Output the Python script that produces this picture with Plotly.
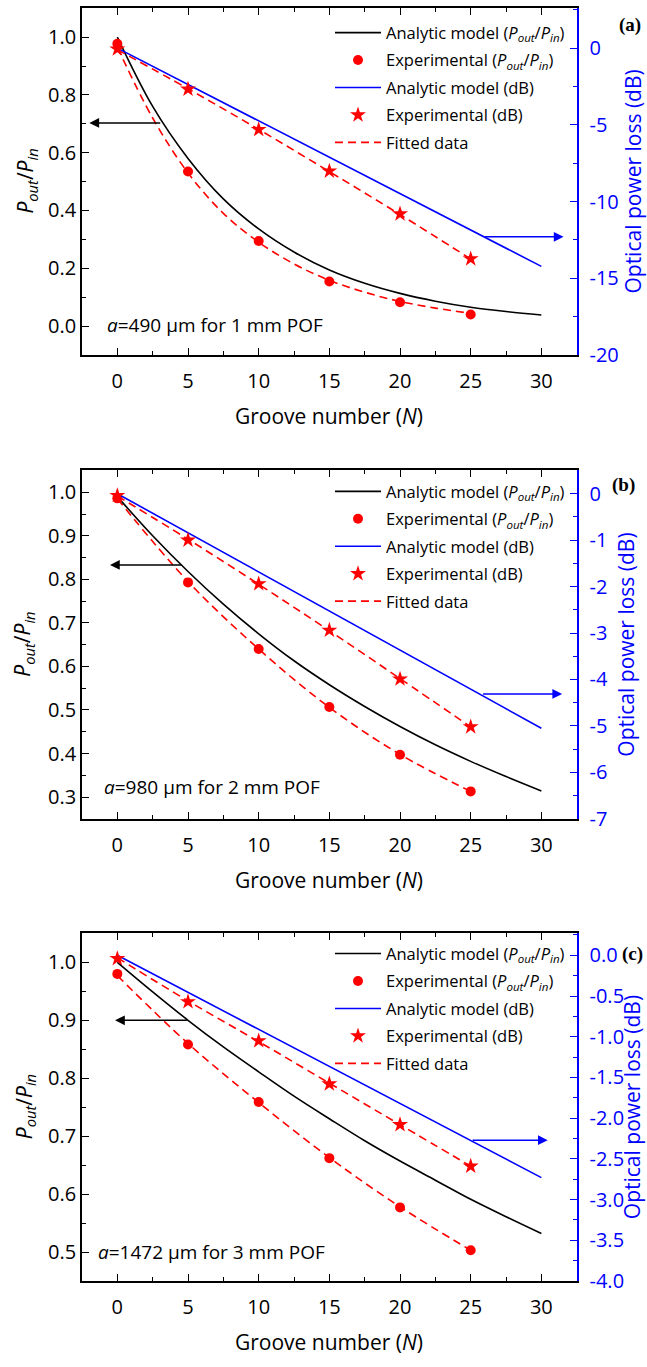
import plotly.graph_objects as go

W, H = 647, 1367

# ---------------- data ----------------
N_model = [0, 2.5, 5, 7.5, 10, 12.5, 15, 17.5, 20, 22.5, 25, 27.5, 30]
N_model_db = [0, 10, 20, 30]
N_exp = [0, 5, 10, 15, 20, 25]
N_fit = [0, 2.5, 5, 7.5, 10, 12.5, 15, 17.5, 20, 22.5, 25]

# panel (a)  a=490 um, 1 mm POF
a_model_ratio = [1.0, 0.76, 0.58, 0.44, 0.336, 0.256, 0.194, 0.148, 0.113, 0.086, 0.065, 0.050, 0.038]
a_model_db = [0.0, -4.75, -9.5, -14.23]
a_exp_ratio = [0.977, 0.535, 0.294, 0.154, 0.082, 0.040]
a_exp_db = [-0.06, -2.68, -5.31, -8.02, -10.81, -13.74]
a_fit_ratio = [0.965, 0.72, 0.53, 0.39, 0.29, 0.215, 0.158, 0.117, 0.085, 0.062, 0.044]
a_fit_db = [-0.1, -2.65, -5.3, -8.05, -10.85, -13.75]

# panel (b)  a=980 um, 2 mm POF
b_model_ratio = [0.99, 0.90, 0.818, 0.743, 0.675, 0.613, 0.558, 0.508, 0.462, 0.42, 0.382, 0.347, 0.314]
b_model_db = [0.0, -1.68, -3.36, -5.05]
b_exp_ratio = [0.986, 0.793, 0.640, 0.507, 0.397, 0.313]
b_exp_db = [-0.04, -1.0, -1.94, -2.94, -3.99, -5.02]
b_fit_ratio = [0.985, 0.795, 0.640, 0.506, 0.398, 0.313]
b_fit_db = [-0.05, -0.98, -1.95, -2.95, -3.98, -5.02]

# panel (c)  a=1472 um, 3 mm POF
c_model_ratio = [1.0, 0.949, 0.90, 0.854, 0.811, 0.769, 0.73, 0.692, 0.657, 0.624, 0.591, 0.561, 0.532]
c_model_db = [0.0, -0.91, -1.82, -2.73]
c_exp_ratio = [0.980, 0.858, 0.759, 0.662, 0.577, 0.503]
c_exp_db = [-0.04, -0.57, -1.05, -1.58, -2.08, -2.59]
c_fit_ratio = [0.977, 0.86, 0.758, 0.663, 0.578, 0.503]
c_fit_db = [-0.03, -0.56, -1.06, -1.57, -2.08, -2.59]

# tick labels
x_ticks = [0, 5, 10, 15, 20, 25, 30]
a_left_ticks = [0.0, 0.2, 0.4, 0.6, 0.8, 1.0]
a_right_ticks = [0, -5, -10, -15, -20]
a_right_text = ["0", "-5", "-10", "-15", "-20"]
b_left_ticks = [0.3, 0.4, 0.5, 0.6, 0.7, 0.8, 0.9, 1.0]
b_right_ticks = [0, -1, -2, -3, -4, -5, -6, -7]
b_right_text = ["0", "-1", "-2", "-3", "-4", "-5", "-6", "-7"]
c_left_ticks = [0.5, 0.6, 0.7, 0.8, 0.9, 1.0]
c_right_ticks = [0.0, -0.5, -1.0, -1.5, -2.0, -2.5, -3.0, -3.5, -4.0]
c_right_text = ["0.0", "-0.5", "-1.0", "-1.5", "-2.0", "-2.5", "-3.0", "-3.5", "-4.0"]

labels = ["(a)", "(b)", "(c)"]
notes = ["<i>a</i>=490 \u03bcm for 1 mm POF",
         "<i>a</i>=980 \u03bcm for 2 mm POF",
         "<i>a</i>=1472 \u03bcm for 3 mm POF"]

# ---------------- style ----------------
FONT = "Open Sans"
RED = "#FF0000"
BLUE = "#0000FF"
BLACK = "#000000"
TICK_FS = 20
TITLE_FS = 21
LEG_FS = 16.5

# pixel geometry
PX_L, PX_R = 82.0, 576.7
panels_px = [(8.3, 358.3), (475.0, 826.7), (942.3, 1293.3)]

def py(p):
    return 1 - p / H

def px(p):
    return p / W

xdom = [px(PX_L), px(PX_R)]

fig = go.Figure()

panel_data = [
    (a_model_ratio, a_model_db, a_exp_ratio, a_exp_db, a_fit_ratio, N_fit, a_fit_db),
    (b_model_ratio, b_model_db, b_exp_ratio, b_exp_db, b_fit_ratio, N_exp, b_fit_db),
    (c_model_ratio, c_model_db, c_exp_ratio, c_exp_db, c_fit_ratio, N_exp, c_fit_db),
]

for i, (mr, mdb, er, edb, fr, nfr, fdb) in enumerate(panel_data):
    xa = "x" if i == 0 else f"x{i+1}"
    yl = "y" if i == 0 else f"y{2*i+1}"
    yr = f"y{2*i+2}"
    lg = "legend" if i == 0 else f"legend{i+1}"
    fig.add_trace(go.Scatter(x=nfr, y=fr, mode="lines", name="Fitted data",
                             line=dict(color=RED, width=1.6, dash="8px,5px", shape="spline"),
                             xaxis=xa, yaxis=yl, legend=lg, legendrank=5, legendgroup=f"p{i}fit"))
    fig.add_trace(go.Scatter(x=N_exp, y=fdb, mode="lines", name="Fitted data",
                             line=dict(color=RED, width=1.6, dash="8px,5px", shape="spline"),
                             xaxis=xa, yaxis=yr, legend=lg, showlegend=False, legendgroup=f"p{i}fit"))
    fig.add_trace(go.Scatter(x=N_model, y=mr, mode="lines",
                             name="Analytic model (<i>P</i><sub><i>out</i></sub>/<i>P</i><sub><i>in</i></sub>)",
                             line=dict(color=BLACK, width=1.6, shape="spline"),
                             xaxis=xa, yaxis=yl, legend=lg, legendrank=1, legendgroup=f"p{i}m"))
    fig.add_trace(go.Scatter(x=N_model_db, y=mdb, mode="lines", name="Analytic model (dB)",
                             line=dict(color=BLUE, width=1.6),
                             xaxis=xa, yaxis=yr, legend=lg, legendrank=3, legendgroup=f"p{i}mdb"))
    fig.add_trace(go.Scatter(x=N_exp, y=er, mode="markers",
                             name="Experimental (<i>P</i><sub><i>out</i></sub>/<i>P</i><sub><i>in</i></sub>)",
                             marker=dict(color=RED, size=10, symbol="circle"),
                             xaxis=xa, yaxis=yl, legend=lg, legendrank=2, legendgroup=f"p{i}e"))
    fig.add_trace(go.Scatter(x=N_exp, y=edb, mode="markers", name="Experimental (dB)",
                             marker=dict(color=RED, size=12, symbol="star"),
                             xaxis=xa, yaxis=yr, legend=lg, legendrank=4, legendgroup=f"p{i}edb"))

left_cfg = [
    dict(range=[-0.1, 1.1], tickvals=a_left_ticks, minor_dtick=0.1),
    dict(range=[0.25, 1.05], tickvals=b_left_ticks, minor_dtick=0.05),
    dict(range=[0.45, 1.05], tickvals=c_left_ticks, minor_dtick=0.05),
]
right_cfg = [
    dict(range=[-20, 2.6], tickvals=a_right_ticks, ticktext=a_right_text, minor_dtick=2.5),
    dict(range=[-7, 0.5], tickvals=b_right_ticks, ticktext=b_right_text, minor_dtick=0.5),
    dict(range=[-4, 0.27], tickvals=c_right_ticks, ticktext=c_right_text, minor_dtick=0.25),
]

layout = dict(
    width=W, height=H,
    margin=dict(l=0, r=0, t=0, b=0),
    paper_bgcolor="white", plot_bgcolor="rgba(0,0,0,0)",
    font=dict(family=FONT, size=TICK_FS, color=BLACK),
    showlegend=True,
)

legend_tops = [15.5, 478.7, 945.3]
annotations = []

for i in range(3):
    top, bot = panels_px[i]
    ydom = [py(bot), py(top)]
    xk = "xaxis" if i == 0 else f"xaxis{i+1}"
    ylk = "yaxis" if i == 0 else f"yaxis{2*i+1}"
    yrk = f"yaxis{2*i+2}"
    xa = "x" if i == 0 else f"x{i+1}"
    yl = "y" if i == 0 else f"y{2*i+1}"
    layout[xk] = dict(domain=xdom, anchor=yl, range=[-2.5, 32.5], tickmode="array", tickvals=x_ticks,
                      ticks="inside", ticklen=7, tickwidth=1.3, tickcolor=BLACK,
                      minor=dict(dtick=2.5, tick0=0, ticks="inside", ticklen=4, tickwidth=1.3, tickcolor=BLACK),
                      showline=True, linecolor=BLACK, linewidth=1.6, mirror="ticks",
                      showgrid=False, zeroline=False, ticklabelstandoff=7,
                      tickfont=dict(size=TICK_FS, color=BLACK))
    lc = left_cfg[i]
    layout[ylk] = dict(domain=ydom, anchor=xa, range=lc["range"], tickmode="array", tickvals=lc["tickvals"],
                       tickformat=".1f", ticks="inside", ticklen=7, tickwidth=1.3, tickcolor=BLACK,
                       minor=dict(dtick=lc["minor_dtick"], tick0=0, ticks="inside", ticklen=4, tickwidth=1.3, tickcolor=BLACK),
                       showline=True, linecolor=BLACK, linewidth=1.6, mirror=False,
                       showgrid=False, zeroline=False, ticklabelstandoff=0,
                       tickfont=dict(size=TICK_FS, color=BLACK))
    rc = right_cfg[i]
    layout[yrk] = dict(overlaying=yl, anchor=xa, side="right", range=rc["range"], tickmode="array",
                       tickvals=rc["tickvals"], ticktext=rc["ticktext"],
                       ticks="inside", ticklen=7, tickwidth=1.3, tickcolor=BLUE,
                       minor=dict(dtick=rc["minor_dtick"], tick0=0, ticks="inside", ticklen=4, tickwidth=1.3, tickcolor=BLUE),
                       showline=True, linecolor=BLUE, linewidth=1.6,
                       showgrid=False, zeroline=False, ticklabelstandoff=7,
                       tickfont=dict(size=TICK_FS, color=BLUE))
    lk = "legend" if i == 0 else f"legend{i+1}"
    layout[lk] = dict(x=px(330), y=py(legend_tops[i]), xanchor="left", yanchor="top",
                      bgcolor="rgba(0,0,0,0)", borderwidth=0, tracegroupgap=3,
                      itemwidth=46, traceorder="grouped",
                      font=dict(family=FONT, size=LEG_FS, color=BLACK))

    annotations.append(dict(text="Groove number (<i>N</i>)", xref="paper", yref="paper",
                            x=px((PX_L + PX_R) / 2), y=py(bot + 62), xanchor="center", yanchor="middle",
                            showarrow=False, font=dict(family=FONT, size=TITLE_FS, color=BLACK)))
    left_title_x = [26, 23, 25][i]
    annotations.append(dict(text="<i>P</i><sub><i>out</i></sub>/<i>P</i><sub><i>in</i></sub>",
                            xref="paper", yref="paper", x=px(left_title_x), y=py((top + bot) / 2),
                            xanchor="center", yanchor="middle", textangle=-90, showarrow=False,
                            font=dict(family=FONT, size=TITLE_FS, color=BLACK)))
    right_title_x = [633, 626, 632][i]
    annotations.append(dict(text="Optical power loss (dB)", xref="paper", yref="paper",
                            x=px(right_title_x), y=py((top + bot) / 2),
                            xanchor="center", yanchor="middle", textangle=-90, showarrow=False,
                            font=dict(family=FONT, size=TITLE_FS, color=BLUE)))
    lab_pos = [(630, 25), (623, 490), (632, 963)][i]
    annotations.append(dict(text="<b>%s</b>" % labels[i], xref="paper", yref="paper",
                            x=px(lab_pos[0]), y=py(lab_pos[1]), xanchor="center", yanchor="middle",
                            showarrow=False, font=dict(family="Liberation Serif", size=19, color=BLACK)))

note_pos = [(-0.87, 0.003), (-1.1, 0.323), (-1.5, 0.5)]
arrows_black = [((-1.98, 0.703), (3.14, 0.703)), ((-0.52, 0.833), (4.67, 0.833)), ((-0.16, 0.9), (5.03, 0.9))]
arrows_blue = [((31.57, -12.3), (25.9, -12.3)), ((31.47, -4.31), (25.77, -4.31)), ((30.45, -2.27), (25.03, -2.27))]
for i in range(3):
    xa = "x" if i == 0 else f"x{i+1}"
    yl = "y" if i == 0 else f"y{2*i+1}"
    yr = f"y{2*i+2}"
    annotations.append(dict(text=notes[i], xref=xa, yref=yl, x=note_pos[i][0], y=note_pos[i][1],
                            xanchor="left", yanchor="middle", showarrow=False,
                            font=dict(family=FONT, size=19, color=BLACK)))
    (hx, hy), (tx, ty) = arrows_black[i]
    annotations.append(dict(text="", xref=xa, yref=yl, axref=xa, ayref=yl, x=hx, y=hy, ax=tx, ay=ty,
                            showarrow=True, arrowhead=2, arrowsize=1.3, arrowwidth=1.5, arrowcolor=BLACK))
    (hx, hy), (tx, ty) = arrows_blue[i]
    annotations.append(dict(text="", xref=xa, yref=yr, axref=xa, ayref=yr, x=hx, y=hy, ax=tx, ay=ty,
                            showarrow=True, arrowhead=2, arrowsize=1.3, arrowwidth=1.5, arrowcolor=BLUE))

layout["annotations"] = annotations
fig.update_layout(**layout)
fig.write_html("out.html")
